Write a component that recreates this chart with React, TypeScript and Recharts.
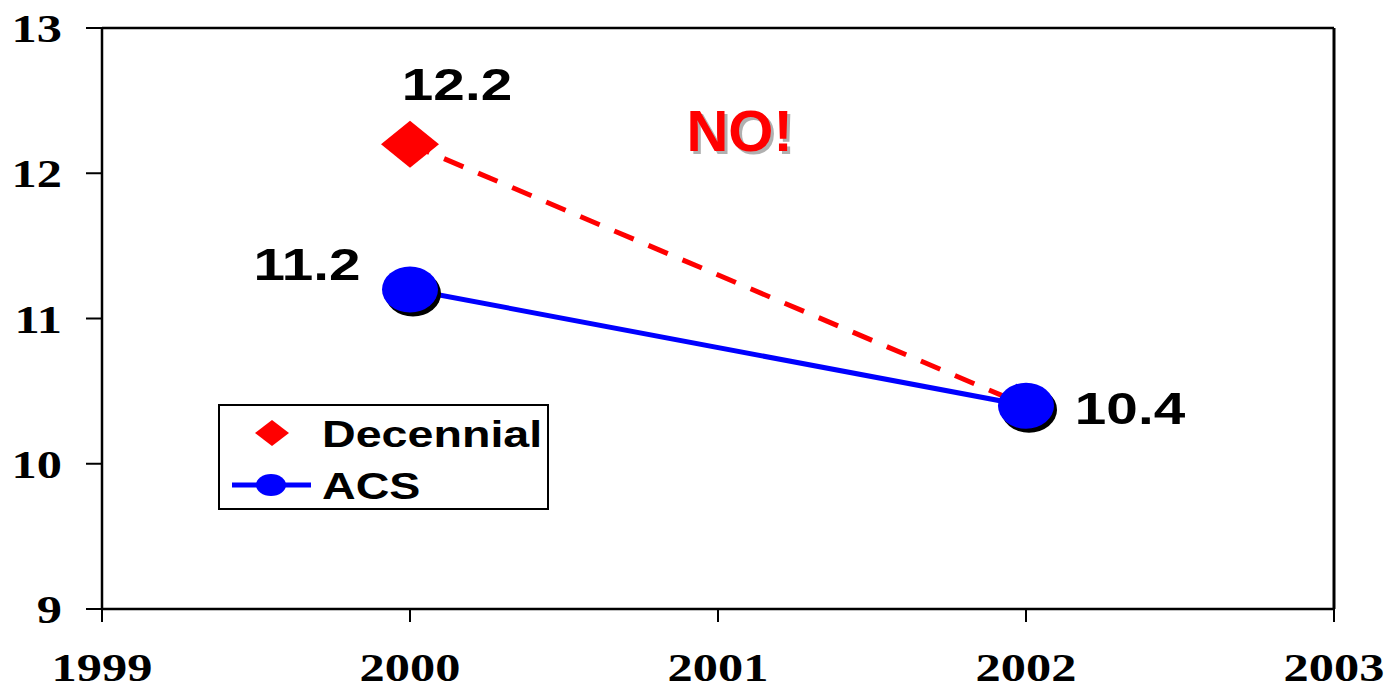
import React from 'react';
import { LineChart, Line, XAxis, YAxis, ReferenceLine, ReferenceDot, Legend, LabelList } from 'recharts';

const years = [2000, 2002];
const decennial = [12.2, 10.4];
const acs = [11.2, 10.4];
const xTicks = [1999, 2000, 2001, 2002, 2003];
const yTicks = [9, 10, 11, 12, 13];
const noPos = { year: 2001.07, value: 12.15 };

const decennialData = years.map((year, i) => ({ year, value: decennial[i] }));
const acsData = years.map((year, i) => ({ year, value: acs[i] }));

// the original slide is stretched sideways, so text gets the same squash
const STRETCH = 1.26;
const SERIF = '"Liberation Serif", "Times New Roman", serif';
const SANS = '"Liberation Sans", Arial, sans-serif';
const RED = '#ff0000';
const BLUE = '#0000ff';

const Wide = ({ x, y, children, size, family, fill = '#000', anchor = 'middle' }: any) => (
  <text
    transform={`translate(${x},${y}) scale(${STRETCH},1)`}
    textAnchor={anchor}
    fontFamily={family}
    fontWeight="bold"
    fontSize={size}
    fill={fill}
  >
    {children}
  </text>
);

const YTick = ({ x, y, payload }: any) => (
  <Wide x={x} y={y + 14} size={40} family={SERIF} anchor="end">
    {payload.value}
  </Wide>
);

const XTick = ({ x, y, payload }: any) => (
  <Wide x={x} y={y + 59} size={40} family={SERIF}>
    {payload.value}
  </Wide>
);

const Diamond = ({ cx, cy, index }: any) => {
  if (index !== 0 || cx == null) return <g key={`d${index}`} />;
  return (
    <polygon
      key={`d${index}`}
      points={`${cx},${cy - 23.5} ${cx + 29},${cy} ${cx},${cy + 23.5} ${cx - 29},${cy}`}
      fill={RED}
    />
  );
};

const Bubble = ({ cx, cy, index }: any) => {
  if (cx == null) return <g key={`b${index}`} />;
  return (
    <g key={`b${index}`}>
      <ellipse cx={cx + 3} cy={cy + 4} rx={28} ry={23} fill="#000" />
      <ellipse cx={cx} cy={cy} rx={28} ry={23} fill={BLUE} />
    </g>
  );
};

const decennialOffsets: Record<number, [number, number]> = { 0: [47, -44] };
const acsOffsets: Record<number, [number, number]> = { 0: [-103, -9], 1: [104, 18] };

const makeLabel = (offsets: Record<number, [number, number]>) => (props: any) => {
  const off = offsets[props.index];
  if (!off) return null;
  return (
    <Wide key={`l${props.index}`} x={props.x + off[0]} y={props.y + off[1]} size={45} family={SANS}>
      {props.value}
    </Wide>
  );
};

const NoLabel = ({ viewBox }: any) => {
  const { x, y } = viewBox;
  return (
    <g fontFamily={SANS} fontWeight="bold" fontSize={58} textAnchor="middle">
      <text x={x + 3} y={y + 3} fill="#b0b0b0">NO!</text>
      <text x={x} y={y} fill={RED}>NO!</text>
    </g>
  );
};

const LegendBox = () => (
  <svg width={331} height={106} style={{ display: 'block' }}>
    <rect x={1} y={1} width={329} height={104} fill="#fff" stroke="#000" strokeWidth={2} />
    <polygon points="54,16 71,29 54,42 37,29" fill={RED} />
    <Wide x={104} y={43} size={37} family={SANS} anchor="start">Decennial</Wide>
    <line x1={14} y1={81} x2={93} y2={81} stroke={BLUE} strokeWidth={5} />
    <ellipse cx={53} cy={81} rx={15} ry={11} fill={BLUE} />
    <Wide x={104} y={95} size={37} family={SANS} anchor="start">ACS</Wide>
  </svg>
);

export default function App() {
  return (
    <div style={{ position: 'absolute', top: 0, left: 0, background: '#fff' }}>
      <LineChart width={1389} height={687} margin={{ top: 28, right: 55, bottom: 0, left: 0 }}>
        <XAxis
          dataKey="year"
          type="number"
          domain={[1999, 2003]}
          ticks={xTicks}
          allowDuplicatedCategory={false}
          height={78}
          tickSize={13}
          tickMargin={0}
          axisLine={{ stroke: '#000', strokeWidth: 2.5 }}
          tickLine={{ stroke: '#000', strokeWidth: 2 }}
          tick={<XTick />}
        />
        <YAxis
          type="number"
          domain={[9, 13]}
          ticks={yTicks}
          width={102}
          tickSize={16}
          tickMargin={24}
          axisLine={{ stroke: '#000', strokeWidth: 2.5 }}
          tickLine={{ stroke: '#000', strokeWidth: 2 }}
          tick={<YTick />}
        />
        <ReferenceLine y={13} stroke="#000" strokeWidth={2.5} />
        <ReferenceLine x={2003} stroke="#000" strokeWidth={3} />
        <ReferenceDot x={noPos.year} y={noPos.value} r={0} fill="none" stroke="none" label={<NoLabel />} />
        <Line
          data={decennialData}
          dataKey="value"
          name="Decennial"
          stroke={RED}
          strokeWidth={5}
          strokeDasharray="21 16"
          dot={<Diamond />}
          activeDot={false}
          isAnimationActive={false}
        >
          <LabelList dataKey="value" content={makeLabel(decennialOffsets)} />
        </Line>
        <Line
          data={acsData}
          dataKey="value"
          name="ACS"
          stroke={BLUE}
          strokeWidth={5}
          dot={<Bubble />}
          activeDot={false}
          isAnimationActive={false}
        >
          <LabelList dataKey="value" content={makeLabel(acsOffsets)} />
        </Line>
        <Legend
          layout="vertical"
          align="center"
          verticalAlign="middle"
          content={<LegendBox />}
          wrapperStyle={{ position: 'absolute', left: 218, top: 404, width: 331, height: 106 }}
        />
      </LineChart>
    </div>
  );
}
